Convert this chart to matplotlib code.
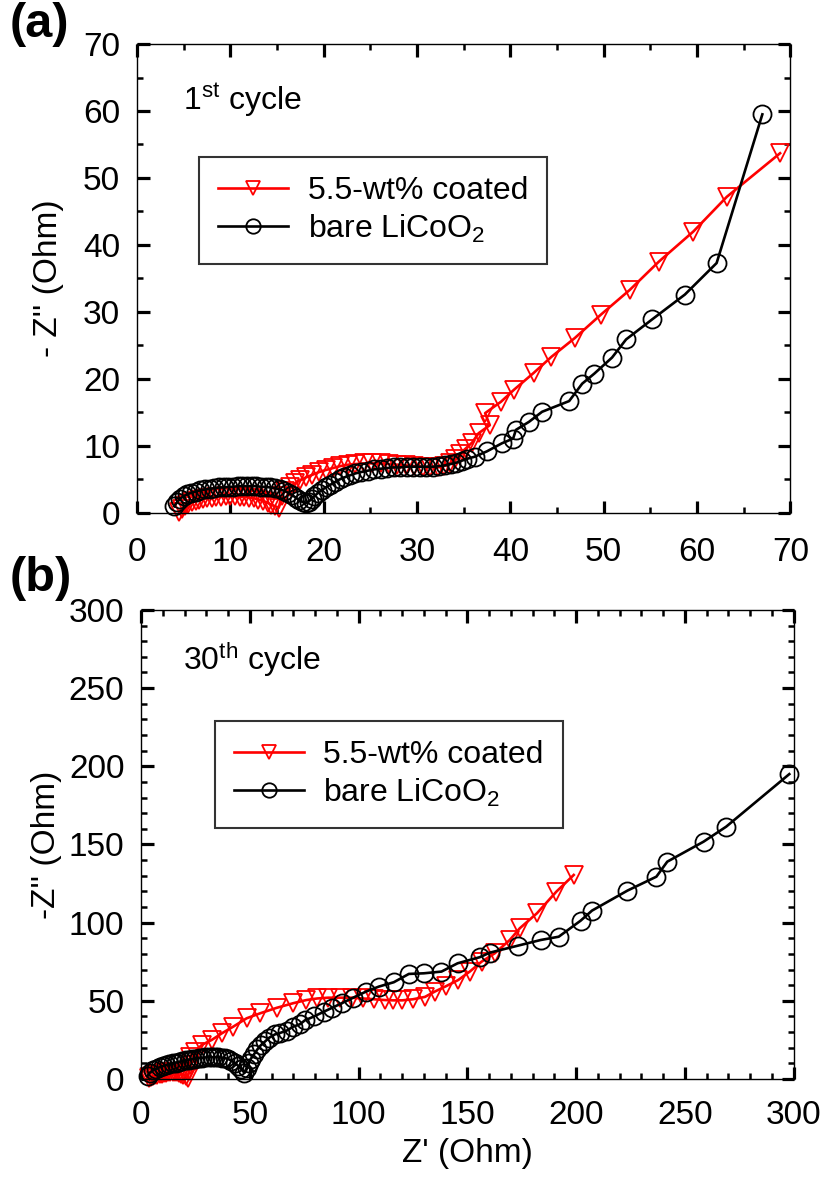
import matplotlib
matplotlib.use("Agg")
import matplotlib.pyplot as plt
from matplotlib.ticker import MultipleLocator

plt.rcParams['font.family'] = ['Liberation Sans', 'DejaVu Sans']
plt.rcParams['mathtext.fontset'] = 'custom'
plt.rcParams['mathtext.rm'] = 'Liberation Sans'
plt.rcParams['mathtext.it'] = 'Liberation Sans:italic'
plt.rcParams['mathtext.bf'] = 'Liberation Sans:bold'

# --- panel (a): 1st cycle ---
a_bare_x = [4.0, 4.3, 4.6, 5.0, 5.4, 5.8, 6.3, 6.8, 7.3, 7.8, 8.3, 8.8, 9.3, 9.8, 10.3, 10.8,
            11.3, 11.8, 12.3, 12.8, 13.3, 13.8, 14.3, 14.8, 15.3, 15.8, 16.2, 16.6, 17.0, 17.4,
            17.8, 18.1, 18.4, 18.7, 19.0, 19.4, 19.8, 20.2, 20.7, 21.2, 21.7, 22.2, 22.8, 23.4,
            24.0, 24.7, 25.4, 26.1, 26.8, 27.5, 28.2, 28.9, 29.6, 30.3, 31.0, 31.7, 32.4, 33.0,
            33.6, 34.2, 34.8, 35.4, 36.2, 37.5, 39.1, 40.3, 40.6, 42.0, 43.4, 46.3, 47.7, 49.0,
            50.9, 52.4, 55.2, 58.7, 62.1, 67.0]
a_bare_y = [1.0, 1.6, 2.1, 2.5, 2.8, 3.0, 3.2, 3.4, 3.5, 3.6, 3.7, 3.8, 3.8, 3.9, 3.9, 4.0,
            4.0, 4.0, 4.0, 4.0, 3.9, 3.9, 3.8, 3.7, 3.5, 3.3, 3.0, 2.7, 2.3, 1.9,
            1.6, 1.5, 1.7, 2.1, 2.5, 3.0, 3.4, 3.8, 4.2, 4.6, 5.0, 5.3, 5.6, 5.9,
            6.1, 6.3, 6.5, 6.6, 6.7, 6.8, 6.8, 6.9, 6.9, 6.9, 6.9, 6.9, 7.0, 7.1,
            7.3, 7.5, 7.8, 8.1, 8.4, 9.2, 10.4, 11.1, 12.4, 13.6, 15.1, 16.7, 19.3, 20.8,
            23.2, 25.9, 28.9, 32.6, 37.3, 59.5]

a_coat_x = [4.5, 4.8, 5.1, 5.5, 5.9, 6.3, 6.7, 7.1, 7.5, 8.0, 8.5, 9.0, 9.5, 10.0, 10.5, 11.0,
            11.5, 12.0, 12.5, 13.0, 13.5, 14.0, 14.4, 14.8, 15.2, 15.5, 15.9, 16.4, 16.9, 17.5,
            18.1, 18.8, 19.5, 20.2, 21.0, 21.8, 22.6, 23.4, 24.3, 25.2, 26.1, 27.0, 27.9, 28.8,
            29.7, 30.6, 31.4, 32.2, 32.9, 33.5, 34.1, 34.6, 35.2, 35.9, 36.6, 37.8, 37.3, 39.0,
            40.4, 42.5, 44.4, 46.9, 49.7, 52.8, 55.9, 59.6, 63.2, 68.9]
a_coat_y = [0.2, 0.6, 1.0, 1.3, 1.6, 1.8, 2.0, 2.1, 2.2, 2.3, 2.4, 2.4, 2.5, 2.5, 2.5, 2.4,
            2.4, 2.3, 2.2, 2.0, 1.8, 1.5, 1.2, 1.0, 0.8, 2.6, 3.3, 3.9, 4.4, 4.9,
            5.3, 5.7, 6.1, 6.4, 6.7, 7.0, 7.2, 7.3, 7.4, 7.4, 7.4, 7.3, 7.2, 7.1,
            7.0, 6.9, 6.8, 6.8, 7.0, 7.4, 8.0, 8.8, 9.6, 10.5, 11.9, 13.1, 14.9, 16.6,
            18.4, 20.9, 23.3, 26.1, 29.6, 33.3, 37.5, 42.0, 47.2, 53.7]

# --- panel (b): 30th cycle ---
b_bare_x = [3.0, 4.0, 5.5, 7.0, 8.5, 10.0, 11.5, 13.0, 14.5, 16.0, 17.5, 19.0, 20.5, 22.0,
            23.5, 25.0, 26.5, 28.0, 29.5, 31.0, 32.5, 34.0, 35.5, 37.0, 38.5, 40.0, 41.5, 43.0,
            44.5, 46.0, 47.5, 48.5, 49.5, 50.5, 52.0, 53.5, 55.0, 57.0, 59.0, 61.5, 64.0, 67.0,
            70.0, 73.0, 75.3, 79.5, 84.1, 87.9, 92.2, 97.5, 103.4, 109.3, 116.2, 123.1, 130.0,
            138.1, 145.5, 155.7, 160.3, 173.3, 183.7, 192.0, 202.1, 207.3, 223.6, 236.9, 241.9,
            258.6, 269.0, 298.0]
b_bare_y = [2.0, 4.0, 5.5, 6.5, 7.5, 8.2, 8.8, 9.4, 10.0, 10.5, 11.0, 11.5, 12.0, 12.4,
            12.8, 13.1, 13.4, 13.6, 13.8, 13.9, 14.0, 14.0, 13.9, 13.7, 13.4, 12.8, 11.8, 10.4,
            8.6, 6.4, 4.0, 7.0, 10.0, 13.0, 16.0, 19.0, 21.5, 24.0, 26.5, 28.5, 29.5, 31.0,
            33.5, 35.0, 37.5, 40.0, 43.1, 45.6, 48.4, 52.0, 55.9, 59.1, 61.9, 67.2, 67.6,
            68.7, 74.0, 77.9, 80.8, 85.3, 88.9, 91.0, 101.3, 107.7, 120.5, 129.4, 139.0,
            151.8, 161.4, 195.0]

b_coat_x = [3.5, 4.5, 5.5, 6.5, 7.5, 8.5, 9.5, 10.5, 11.5, 12.5, 13.5, 14.5, 15.5, 16.5,
            17.5, 18.5, 19.5, 20.5, 21.5, 22.0, 22.3, 22.5, 24.8, 27.9, 32.5, 37.1, 42.4, 48.5,
            54.7, 62.3, 70.0, 76.0, 81.0, 86.0, 91.5, 97.0, 102.0, 107.0, 112.0, 116.0, 120.0,
            125.0, 130.5, 135.0, 140.4, 145.8, 151.1, 156.5, 162.6, 169.5, 174.1, 182.0,
            190.9, 198.9]
b_coat_y = [0.5, 1.2, 1.8, 2.3, 2.8, 3.2, 3.5, 3.8, 4.0, 4.2, 4.3, 4.4, 4.4, 4.3,
            4.0, 3.5, 2.8, 1.8, 0.8, 5.0, 9.0, 14.3, 17.5, 21.8, 25.0, 29.2, 33.5, 38.8,
            42.0, 45.5, 48.5, 50.5, 51.5, 52.0, 52.0, 52.0, 51.5, 51.0, 50.5, 50.3, 50.3,
            51.0, 52.5, 55.9, 59.5, 63.3, 68.7, 75.0, 80.4, 88.9, 96.4, 106.0,
            119.8, 130.5]

label_coat = "5.5-wt% coated"
label_bare = r"bare LiCoO$_2$"

fig = plt.figure(figsize=(8.25, 11.8), dpi=100)
ax_a = fig.add_axes([0.166, 0.5653, 0.792, 0.3974])
ax_b = fig.add_axes([0.171, 0.0856, 0.791, 0.3975])

line_kw = dict(lw=1.9, markersize=13, markerfacecolor='none', markeredgewidth=1.3, clip_on=False)


def style_axes(ax, lim, major, minor, xpad):
    ax.set_xlim(0, lim)
    ax.set_ylim(0, lim)
    ax.xaxis.set_major_locator(MultipleLocator(major))
    ax.yaxis.set_major_locator(MultipleLocator(major))
    ax.xaxis.set_minor_locator(MultipleLocator(minor))
    ax.yaxis.set_minor_locator(MultipleLocator(minor))
    ax.tick_params(which='both', direction='in', top=True, right=True, labelsize=24)
    ax.tick_params(which='major', length=9, width=2.3)
    ax.tick_params(which='minor', length=4.5, width=1.8)
    ax.tick_params(axis='x', pad=xpad)
    ax.tick_params(axis='y', pad=12)
    for s in ax.spines.values():
        s.set_linewidth(1.0)


for ax, cx, cy, bx, by in [(ax_a, a_coat_x, a_coat_y, a_bare_x, a_bare_y),
                           (ax_b, b_coat_x, b_coat_y, b_bare_x, b_bare_y)]:
    ax.plot(cx, cy, color='red', marker='v', markeredgecolor='red', label=label_coat, **line_kw)
    ax.plot(bx, by, color='black', marker='o', markeredgecolor='black', label=label_bare, **line_kw)

style_axes(ax_a, 70, 10, 5, 17)
style_axes(ax_b, 300, 50, 10, 15)

leg_kw = dict(loc='upper left', borderaxespad=0, fontsize=23, numpoints=1, handlelength=2.2,
              handletextpad=0.6, labelspacing=0.2, borderpad=0.6, fancybox=False,
              edgecolor='#333333', framealpha=1, markerscale=0.8)
lg = ax_a.legend(bbox_to_anchor=(0.095, 0.759), **leg_kw)
lg.get_frame().set_linewidth(1.5)
lg = ax_b.legend(bbox_to_anchor=(0.113, 0.763), **leg_kw)
lg.get_frame().set_linewidth(1.5)

ax_a.text(0.07, 0.88, r"1$^{\mathrm{st}}$ cycle", transform=ax_a.transAxes, fontsize=23, va='center')
ax_b.text(0.065, 0.895, r"30$^{\mathrm{th}}$ cycle", transform=ax_b.transAxes, fontsize=23, va='center')

ax_a.set_ylabel("- Z'' (Ohm)", fontsize=24)
ax_a.yaxis.set_label_coords(-0.112, 0.5)
ax_b.set_ylabel("-Z'' (Ohm)", fontsize=24)
ax_b.yaxis.set_label_coords(-0.121, 0.5)
ax_b.set_xlabel("Z' (Ohm)", fontsize=24)
ax_b.xaxis.set_label_coords(0.5, -0.126)

fig.text(0.012, 0.979, "(a)", fontsize=35, fontweight='bold', va='center', ha='left')
fig.text(0.012, 0.51, "(b)", fontsize=35, fontweight='bold', va='center', ha='left')

fig.savefig("out.png", dpi=100)
